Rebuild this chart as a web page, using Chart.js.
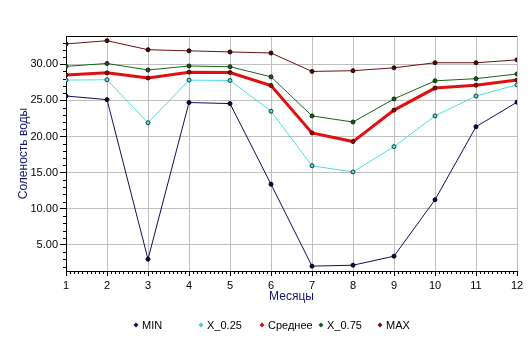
<!DOCTYPE html>
<html>
<head>
<meta charset="utf-8">
<script src="https://cdn.jsdelivr.net/npm/chart.js@4.4.1/dist/chart.umd.min.js"></script>
<style>
html,body{margin:0;padding:0;background:#fff;}
#wrap{width:532px;height:347px;position:relative;}
</style>
</head>
<body>
<div id="wrap"><canvas id="c" width="532" height="347"></canvas></div>
<script>
const months = [1,2,3,4,5,6,7,8,9,10,11,12];
const seriesNames = ['MIN','X_0.25','Среднее','X_0.75','MAX'];
const minVals  = [25.6, 25.1, 3.03, 24.7, 24.55, 13.4, 2.07, 2.2, 3.45, 11.25, 21.35, 24.75];
const q25Vals  = [27.8, 27.85, 21.9, 27.8, 27.75, 23.5, 15.95, 15.1, 18.6, 22.85, 25.6, 27.15];
const meanVals = [28.5, 28.8, 28.1, 28.9, 28.85, 27.05, 20.5, 19.3, 23.65, 26.7, 27.1, 27.8];
const q75Vals  = [29.7, 30.1, 29.2, 29.75, 29.65, 28.25, 22.85, 22.0, 25.2, 27.7, 28.0, 28.65];
const maxVals  = [32.8, 33.25, 32.0, 31.85, 31.7, 31.55, 29.0, 29.1, 29.5, 30.2, 30.2, 30.6];
const yTicks = [5, 10, 15, 20, 25, 30];
const xTitle = 'Месяцы';
const yTitle = 'Соленость воды';

const FONT = '"Liberation Sans", Arial, sans-serif';
const navy = '#14146e';

function mk(label, vals, color, width, ptFill, ptBorder, r){
  return {
    label, data: months.map((m,i)=>({x:m, y:vals[i]})),
    borderColor: color, borderWidth: width, backgroundColor: ptFill,
    pointBackgroundColor: ptFill, pointBorderColor: ptBorder, pointBorderWidth: 1,
    pointRadius: r, pointStyle: 'circle', tension: 0, fill: false
  };
}
const datasets = [
  mk(seriesNames[4], maxVals, '#6a1010', 1, '#4a0a0a', '#2a0000', 2),
  mk(seriesNames[3], q75Vals, '#166416', 1, '#1a5a1a', '#0a2a0a', 2),
  mk(seriesNames[2], meanVals, '#e01010', 3, '#8a0a0a', '#500000', 2),
  mk(seriesNames[1], q25Vals, '#4fdede', 1, '#5ee0e0', '#0a3a3a', 2),
  mk(seriesNames[0], minVals, '#10105a', 1, '#0a0a40', '#000020', 2),
];
const legendColors = {'MIN':'#10105a','X_0.25':'#40d0d0','Среднее':'#d01010','X_0.75':'#106010','MAX':'#6a1010'};
const legendPos = [136, 201, 262, 321, 380];

const decor = {
  id:'decor',
  afterDraw(chart){
    const ctx = chart.ctx, a = chart.chartArea;
    const xs = chart.scales.x, ys = chart.scales.y;
    ctx.save();
    ctx.strokeStyle = '#000'; ctx.lineWidth = 1;
    // top border
    ctx.beginPath(); ctx.moveTo(a.left, a.top+0.5); ctx.lineTo(a.right, a.top+0.5); ctx.stroke();
    // minor y ticks
    ctx.beginPath();
    for(let v=Math.ceil(ys.min); v<=ys.max; v++){
      if (v%5===0) continue;
      const y = Math.round(ys.getPixelForValue(v))+0.5;
      ctx.moveTo(a.left-3, y); ctx.lineTo(a.left, y);
    }
    // minor x ticks
    for(let k=10; k<=120; k++){
      if (k%10===0) continue;
      const x = Math.round(xs.getPixelForValue(k/10))+0.5;
      ctx.moveTo(x, a.bottom); ctx.lineTo(x, a.bottom+3);
    }
    ctx.stroke();
    // axis titles
    ctx.fillStyle = navy;
    ctx.font = '12px ' + FONT;
    ctx.textAlign = 'center'; ctx.textBaseline = 'middle';
    ctx.fillText(xTitle, (a.left+a.right)/2, 297);
    ctx.save();
    ctx.translate(24, (a.top+a.bottom)/2);
    ctx.rotate(-Math.PI/2);
    ctx.fillText(yTitle, 0, 0);
    ctx.restore();
    // legend
    ctx.font = '11px ' + FONT;
    ctx.textAlign = 'left';
    seriesNames.forEach((name,i)=>{
      const x = legendPos[i], y = 325;
      ctx.fillStyle = legendColors[name];
      ctx.beginPath();
      ctx.moveTo(x, y-2.5); ctx.lineTo(x+2.5, y); ctx.lineTo(x, y+2.5); ctx.lineTo(x-2.5, y); ctx.closePath();
      ctx.fill();
      ctx.fillStyle = '#000';
      ctx.fillText(name, x+6, y+0.5);
    });
    ctx.restore();
  }
};

new Chart(document.getElementById('c'), {
  type: 'line',
  data: { datasets },
  options: {
    responsive: false, animation: false, devicePixelRatio: 1,
    layout: { padding: { left: 0, right: 15, top: 36, bottom: 0 } },
    plugins: { legend: { display: false }, tooltip: { enabled: false } },
    scales: {
      x: {
        type: 'linear', min: 1, max: 12,
        afterFit(s){ s.height = 76; },
        afterBuildTicks(s){ s.ticks = months.map(v=>({value:v})); },
        ticks: { color:'#000', font:{family:FONT, size:11}, padding: 3, maxRotation:0,
          callback:(v)=>String(v) },
        grid: { color:'#c0c0c0', lineWidth:1, tickLength:5, tickColor:'#000', drawTicks:true },
        border: { color:'#000', width:1 }
      },
      y: {
        type: 'linear', min: 1.4, max: 33.9,
        afterFit(s){ s.width = 66; },
        afterBuildTicks(s){ s.ticks = yTicks.map(v=>({value:v})); },
        ticks: { color:'#000', font:{family:FONT, size:11}, padding: 2,
          callback:(v)=>Number(v).toFixed(2) },
        grid: { color:'#c0c0c0', lineWidth:1, tickLength:6, tickColor:'#000', drawTicks:true },
        border: { color:'#000', width:1 }
      }
    }
  },
  plugins: [decor]
});
</script>
</body>
</html>
